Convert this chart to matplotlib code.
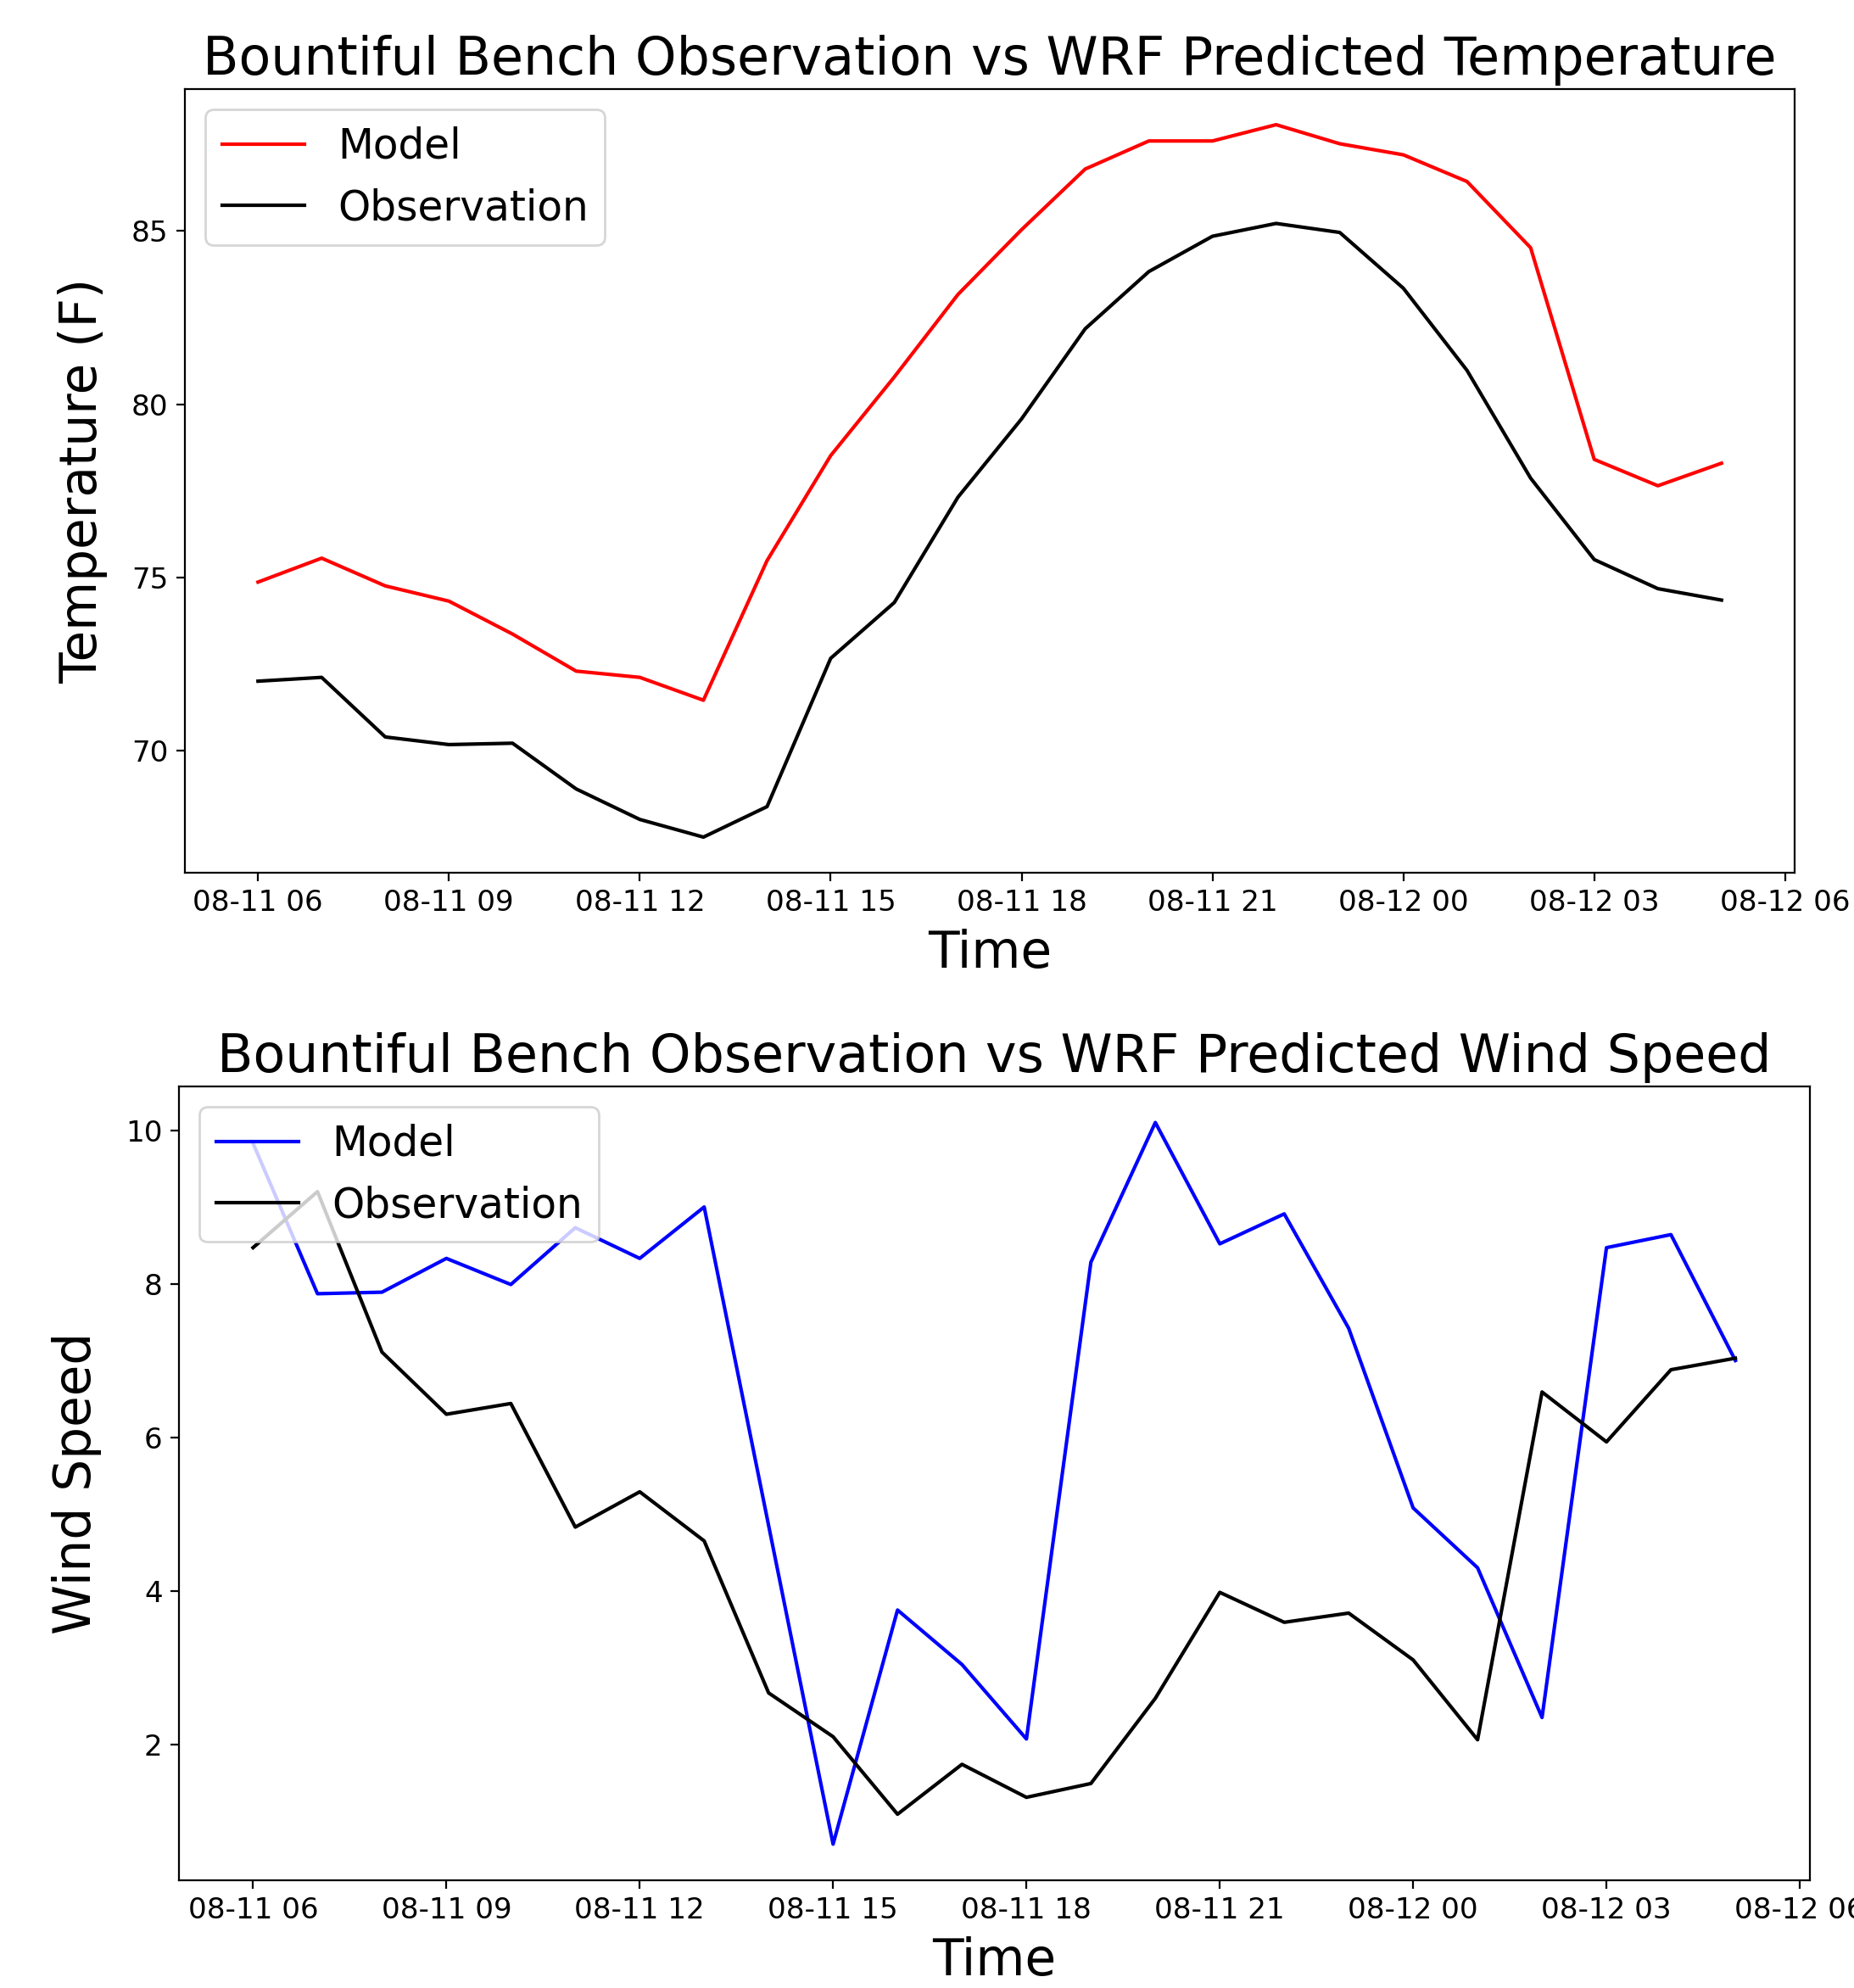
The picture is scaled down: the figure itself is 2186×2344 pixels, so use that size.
import pandas as pd
import matplotlib
matplotlib.use("Agg")
import matplotlib.pyplot as plt
import matplotlib.dates as mdates

# hourly values, 08-11 06:00 through 08-12 05:00
times = pd.date_range("2018-08-11 06:00", periods=24, freq="h")

temp_model = [74.87, 75.56, 74.76, 74.32, 73.37, 72.30, 72.12, 71.46,
              75.49, 78.52, 80.79, 83.17, 85.04, 86.79, 87.60, 87.60,
              88.07, 87.52, 87.20, 86.43, 84.52, 78.41, 77.65, 78.30]
temp_obs = [72.01, 72.12, 70.40, 70.18, 70.22, 68.90, 68.02, 67.51,
            68.39, 72.67, 74.28, 77.32, 79.58, 82.18, 83.83, 84.85,
            85.22, 84.96, 83.35, 80.98, 77.87, 75.52, 74.68, 74.35]

wind_model = [9.83, 7.87, 7.89, 8.33, 7.99, 8.73, 8.33, 9.00,
              4.85, 0.70, 3.75, 3.04, 2.07, 8.28, 10.10, 8.52,
              8.91, 7.42, 5.08, 4.30, 2.35, 8.47, 8.64, 7.00]
wind_obs = [8.47, 9.20, 7.11, 6.30, 6.44, 4.83, 5.29, 4.65,
            2.67, 2.10, 1.09, 1.74, 1.31, 1.49, 2.60, 3.98,
            3.59, 3.71, 3.10, 2.06, 6.59, 5.94, 6.88, 7.03]

fig = plt.figure(figsize=(10.93, 11.72), dpi=200)
ax1 = fig.add_axes([0.0997, 0.561, 0.8683, 0.3942])
ax2 = fig.add_axes([0.0965, 0.0542, 0.8795, 0.3993])

ax1.plot(times, temp_model, color='r', label='Model')
ax1.plot(times, temp_obs, color='k', label='Observation')
ax1.set_title('Bountiful Bench Observation vs WRF Predicted Temperature', fontsize=22.3)
ax1.set_ylabel('Temperature (F)', fontsize=21.5, labelpad=10)
ax1.set_xlabel('Time', fontsize=21.5, labelpad=5)
ax1.legend(loc='upper left', fontsize=17.5)

ax2.plot(times, wind_model, color='b', label='Model')
ax2.plot(times, wind_obs, color='k', label='Observation')
ax2.set_title('Bountiful Bench Observation vs WRF Predicted Wind Speed', fontsize=22.3)
ax2.set_ylabel('Wind Speed', fontsize=21.5, labelpad=10)
ax2.set_xlabel('Time', fontsize=21.5, labelpad=5)
ax2.legend(loc='upper left', fontsize=17.5)

for ax in (ax1, ax2):
    ax.xaxis.set_major_locator(mdates.HourLocator(byhour=range(0, 24, 3)))
    ax.xaxis.set_major_formatter(mdates.DateFormatter('%m-%d %H'))
    ax.tick_params(labelsize=12.3)

plt.savefig('out.png', dpi=200)
